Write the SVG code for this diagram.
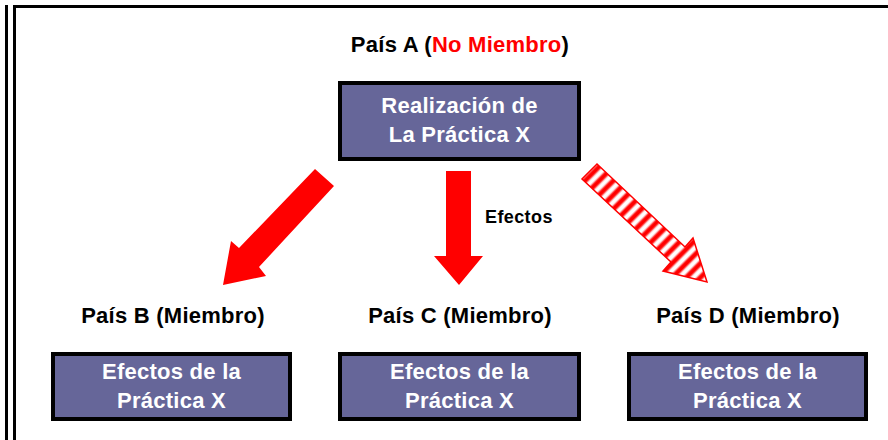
<svg xmlns="http://www.w3.org/2000/svg" width="888" height="440" viewBox="0 0 888 440">
<style>
.box{fill:#666699;stroke:#000;stroke-width:4}
.bt{font-family:"Liberation Sans",Arial,sans-serif;font-weight:bold;font-size:22px;letter-spacing:0.25px;fill:#fff;text-anchor:middle}
.lbl{font-family:"Liberation Sans",Arial,sans-serif;font-weight:bold;font-size:22px;letter-spacing:0.25px;fill:#000;text-anchor:middle}
.small{font-family:"Liberation Sans",Arial,sans-serif;font-weight:bold;font-size:18px;letter-spacing:0.4px;fill:#000}
.solid{fill:#ff0000;stroke:none}
</style>
<defs>
<linearGradient id="sg" x1="0" y1="0" x2="1" y2="0">
<stop offset="0" stop-color="#ff0000"/>
<stop offset="0.3" stop-color="#ff0000"/>
<stop offset="0.5" stop-color="#ffffff"/>
<stop offset="0.8" stop-color="#ffffff"/>
<stop offset="1" stop-color="#ff0000"/>
</linearGradient>
<pattern id="stripes" patternUnits="userSpaceOnUse" width="10" height="10" patternTransform="rotate(45)">
<rect x="0" y="0" width="10" height="10" fill="url(#sg)"/>
</pattern>
</defs>
<rect width="888" height="440" fill="#fff"/>
<g id="frame" fill="#000">
<rect x="5" y="5" width="3" height="435"/>
<rect x="13" y="5" width="3" height="435"/>
<rect x="13" y="5" width="875" height="3"/>
</g>
<g id="nodeA">
<text class="lbl" x="460" y="52">País A (<tspan fill="#ff0000">No Miembro</tspan>)</text>
<rect class="box" x="340" y="83" width="239" height="76"/>
<text class="bt" x="459.5" y="113">Realización de</text>
<text class="bt" x="459.5" y="142">La Práctica X</text>
</g>
<g id="nodeB">
<text class="lbl" x="173" y="323">País B (Miembro)</text>
<rect class="box" x="53" y="354" width="237" height="65"/>
<text class="bt" x="171.5" y="379">Efectos de la</text>
<text class="bt" x="171.5" y="408">Práctica X</text>
</g>
<g id="nodeC">
<text class="lbl" x="460" y="323">País C (Miembro)</text>
<rect class="box" x="340" y="354" width="239" height="65"/>
<text class="bt" x="459.5" y="379">Efectos de la</text>
<text class="bt" x="459.5" y="408">Práctica X</text>
</g>
<g id="nodeD">
<text class="lbl" x="748" y="323">País D (Miembro)</text>
<rect class="box" x="629" y="354" width="237" height="65"/>
<text class="bt" x="747.5" y="379">Efectos de la</text>
<text class="bt" x="747.5" y="408">Práctica X</text>
</g>
<g id="connectors">
<polygon class="solid" points="315,169 334,186 259,267 266,276 223,285 231,241 239,248"/>
<polygon class="solid" points="446,171 471,171 471,256 483,256 459,285 434,256 446,256"/>
<text class="small" x="485" y="223">Efectos</text>
<polygon fill="url(#stripes)" stroke="#ff0000" stroke-width="1.5" stroke-linejoin="miter" points="597,164 685,247 693,238 707,282 663,271 671,262 582,179"/>
</g>
</svg>
